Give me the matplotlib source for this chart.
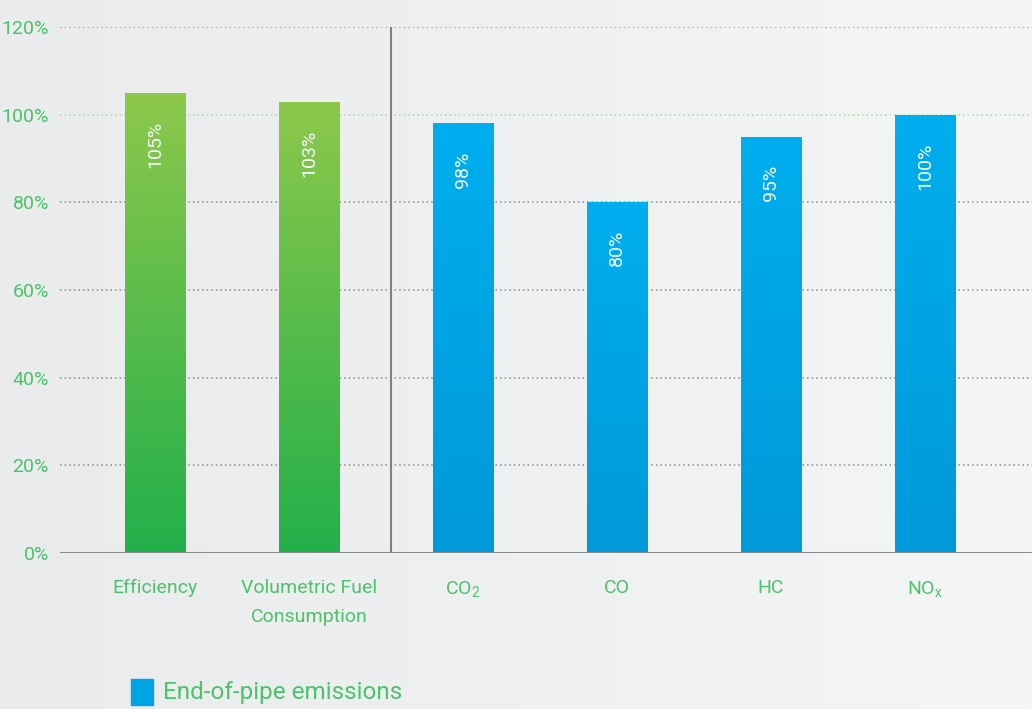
import numpy as np
import matplotlib
matplotlib.use("Agg")
import matplotlib.pyplot as plt
from matplotlib.patches import Rectangle

categories = ["Efficiency", "Volumetric Fuel\nConsumption", "CO$_2$", "CO", "HC", "NO$_\\mathregular{x}$"]
values = [105, 103, 98, 80, 95, 100]
labels = ["105%", "103%", "98%", "80%", "95%", "100%"]
groups = ["perf", "perf", "emis", "emis", "emis", "emis"]
yticks = [0, 20, 40, 60, 80, 100, 120]

GREEN_TXT = "#4cc26a"
GRAD = {"perf": ("#8dc84a", "#22b04b"), "emis": ("#00aeef", "#0099d9")}
plt.rcParams["font.family"] = ["Roboto", "DejaVu Sans"]
plt.rcParams["mathtext.default"] = "regular"

W, H = 1032, 709
fig = plt.figure(figsize=(W / 100, H / 100), dpi=100)

# background gradient
bg = fig.add_axes([0, 0, 1, 1], zorder=-10)
bg.imshow(np.linspace(0, 1, 256)[None, :], aspect="auto", extent=[0, 1, 0, 1],
          cmap=matplotlib.colors.LinearSegmentedColormap.from_list("bg", ["#eaebec", "#f4f5f5"]))
bg.axis("off")

ax = fig.add_axes([60 / W, 1 - 553 / H, 1 - 60 / W, (553 - 27) / H])
ax.patch.set_alpha(0)
x = np.arange(len(values))
XL = (-95 / 154, 5 + 107 / 154)

for y in yticks[1:]:
    ax.axhline(y, color="#a6d99a" if y == 100 else "#8a8a8a", lw=1.1,
               ls=(0, (1, 2)), zorder=1)
ax.axhline(0, color="#8a8a8a", lw=2.2, zorder=4)
ax.plot([1.53, 1.53], [0, 120], color="#808080", lw=1.5, zorder=4)

bars = ax.bar(x, values, width=0.39, color="none", zorder=2)
for b, g in zip(bars, groups):
    top, bot = GRAD[g]
    cmap = matplotlib.colors.LinearSegmentedColormap.from_list("g", [bot, top])
    im = ax.imshow(np.linspace(0, 1, 256)[:, None], aspect="auto", cmap=cmap,
                   origin="lower", zorder=2,
                   extent=[b.get_x(), b.get_x() + b.get_width(), 0, b.get_height()])
    im.set_clip_path(b)
ax.set_xlim(*XL)
ax.set_ylim(0, 120)

for xi, v, lab in zip(x, values, labels):
    ax.annotate(lab, (xi, v), xytext=(0, -20), textcoords="offset points",
                rotation=90, ha="center", va="top", color="#f4fbff", fontsize=14, zorder=5)

ax.set_yticks(yticks)
ax.set_yticklabels([f"{t}%" for t in yticks], color=GREEN_TXT, fontsize=14)
ax.set_xticks(x)
ax.set_xticklabels(categories, color=GREEN_TXT, fontsize=14, linespacing=1.75)
ax.tick_params(axis="both", length=0)
ax.tick_params(axis="x", pad=19)
ax.tick_params(axis="y", pad=8)
for s in ax.spines.values():
    s.set_visible(False)

# legend
fig.patches.append(Rectangle((131 / W, 1 - 705 / H), 22 / W, 26 / H,
                             transform=fig.transFigure, color="#00a3e4"))
fig.text(163 / W, 1 - 692 / H, "End-of-pipe emissions", color=GREEN_TXT,
         fontsize=17.5, va="center", ha="left")

fig.savefig("out.png", dpi=100)
